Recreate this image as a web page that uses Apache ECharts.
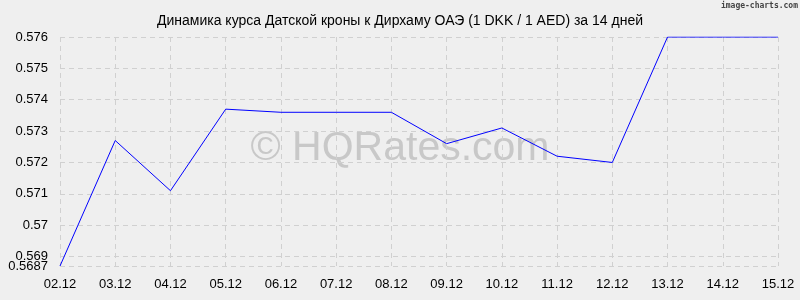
<!DOCTYPE html>
<html><head><meta charset="utf-8">
<script src="https://cdn.jsdelivr.net/npm/echarts@6/dist/echarts.min.js"></script>
<style>html,body{margin:0;padding:0;background:#efefef}#c{width:800px;height:300px}</style>
</head><body><div id="c"></div>
<script>
var categories = ['02.12','03.12','04.12','05.12','06.12','07.12','08.12','09.12','10.12','11.12','12.12','13.12','14.12','15.12'];
var rates = [0.5687,0.5727,0.5711,0.5737,0.5736,0.5736,0.5736,0.5726,0.5731,0.5722,0.5720,0.5760,0.5760,0.5760];
var yTicks = [0.5687,0.569,0.570,0.571,0.572,0.573,0.574,0.575,0.576];
var yMainTicks = [0.569,0.570,0.571,0.572,0.573,0.574,0.575,0.576];
var yMinTick = [0.5687];
var yMin = 0.5687, yMax = 0.576;
var titleText = 'Динамика курса Датской кроны к Дирхаму ОАЭ (1 DKK / 1 AED) за 14 дней';

var chart = echarts.init(document.getElementById('c'));
var gridStyle = {color:'#d0d0d0', type:[5,4], width:1};
var labelBase = {color:'#000',fontSize:13,fontFamily:'Liberation Sans, Arial',margin:12,hideOverlap:false,
  formatter:function(v){return String(+v.toFixed(4));}};
chart.setOption({
  backgroundColor:'#efefef',
  animation:false,
  title:{text:titleText,left:'center',top:9,textStyle:{fontFamily:'Liberation Sans, Arial',fontSize:14,fontWeight:'normal',color:'#000'}},
  graphic:[
    {type:'text',right:2,top:2,style:{text:'image-charts.com',font:'bold 8px DejaVu Sans Mono',fill:'#444'}},
    {type:'text',left:'center',top:128,z:0,style:{text:'© HQRates.com',font:'41px Liberation Sans, Arial',fill:'#c8c8c8'}}
  ],
  grid:{left:60,right:22,top:37,bottom:34,containLabel:false},
  xAxis:{type:'category',data:categories,boundaryGap:false,
    axisLine:{show:false},axisTick:{show:false},
    axisLabel:{color:'#000',fontSize:13,fontFamily:'Liberation Sans, Arial',margin:12,interval:0},
    splitLine:{show:true,lineStyle:gridStyle}},
  yAxis:[
    {type:'value',min:yMin,max:yMax,position:'left',
      axisLine:{show:false},
      axisTick:{show:false,customValues:yTicks},
      splitLine:{show:true,lineStyle:gridStyle},
      axisLabel:Object.assign({customValues:yMainTicks,showMinLabel:true,showMaxLabel:true},labelBase)},
    {type:'value',min:yMin,max:yMax,position:'left',
      axisLine:{show:false},
      axisTick:{show:false,customValues:yMinTick},
      splitLine:{show:false},
      axisLabel:Object.assign({customValues:yMinTick,showMinLabel:true},labelBase)}
  ],
  series:[{type:'line',data:rates,symbol:'none',lineStyle:{color:'#0000ff',width:1},z:5}]
});
</script></body></html>
